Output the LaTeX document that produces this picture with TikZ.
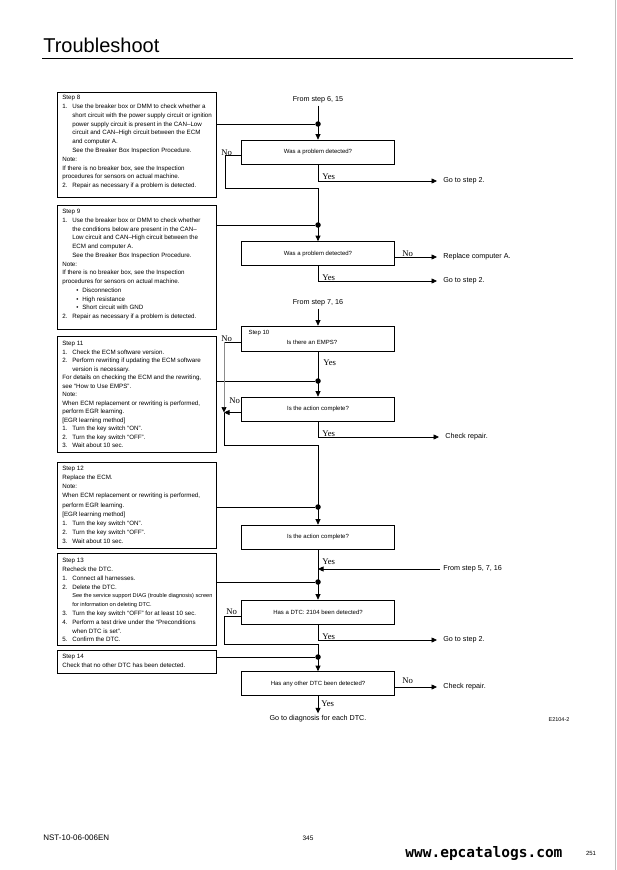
\documentclass[tikz,border=0pt]{standalone}
\usepackage{fontspec}
\setmainfont{Liberation Sans}
\newfontfamily\ynfont{Liberation Serif}
\newfontfamily\webfont{DejaVu Sans Mono}
\usetikzlibrary{arrows.meta,positioning}

\newcommand\numcol[1]{\makebox[10pt][l]{#1}}
\newcommand\indcol{\hspace*{10pt}}
\newcommand\bulcol{\hspace*{14pt}\makebox[6pt][l]{\textbullet}}

\begin{document}
\begin{tikzpicture}[x=1pt,y=-1pt,line width=0.7pt,
	stepbox/.style={draw,anchor=north west,minimum width=159pt,inner sep=0pt},
	steptext/.style={anchor=north west,align=left,inner sep=0pt,
		font=\fontsize{6.2}{8.8}\selectfont},
	askbox/.style={draw,minimum width=153pt,minimum height=24pt,inner sep=0pt,
		font=\fontsize{6}{7}\selectfont},
	side/.style={anchor=west,inner xsep=6pt,inner ysep=1pt,font=\fontsize{7.2}{8}\selectfont},
	from/.style={inner sep=2pt,font=\fontsize{7.2}{8}\selectfont},
	yn/.style={anchor=base west,inner sep=0pt,font=\ynfont\fontsize{8.7}{9}\selectfont},
	tip/.style={-{Triangle[length=5.5pt,width=5pt]}},
	dot/.style={circle,fill,inner sep=0pt,minimum size=5.5pt}]
	% page
	\fill[white] (0,0) rectangle (617,870);
	\useasboundingbox (0,0) rectangle (617,870);
	\node[anchor=base west,inner sep=0pt,font=\fontsize{20}{20}\selectfont] (title) at (43,52) {Troubleshoot};
	\draw[line width=0.9pt] (42,58) -- (573,58);
	\draw[black!25,line width=1.2pt] (615.5,0) -- (615.5,870);

	% left column: steps
	\node[stepbox,minimum height=105pt] (s8) at (57,92) {};
	\node[steptext] (s8t) at (62,95) {Step 8\\
		\numcol{1.}Use the breaker box or DMM to check whether a\\
		\indcol short circuit with the power supply circuit or ignition\\
		\indcol power supply circuit is present in the CAN–Low\\
		\indcol circuit and CAN–High circuit between the ECM\\
		\indcol and computer A.\\
		\indcol See the Breaker Box Inspection Procedure.\\
		Note:\\
		If there is no breaker box, see the Inspection\\
		procedures for sensors on actual machine.\\
		\numcol{2.}Repair as necessary if a problem is detected.};
	\node[stepbox,minimum height=124pt] (s9) at (57,205) {};
	\node[steptext,font=\fontsize{6.2}{8.75}\selectfont] (s9t) at (62,209) {Step 9\\
		\numcol{1.}Use the breaker box or DMM to check whether\\
		\indcol the conditions below are present in the CAN–\\
		\indcol Low circuit and CAN–High circuit between the\\
		\indcol ECM and computer A.\\
		\indcol See the Breaker Box Inspection Procedure.\\
		Note:\\
		If there is no breaker box, see the Inspection\\
		procedures for sensors on actual machine.\\
		\bulcol Disconnection\\
		\bulcol High resistance\\
		\bulcol Short circuit with GND\\
		\numcol{2.}Repair as necessary if a problem is detected.};
	\node[stepbox,minimum height=116pt] (s11) at (57,336) {};
	\node[steptext,font=\fontsize{6.2}{8.5}\selectfont] (s11t) at (62,341) {Step 11\\
		\numcol{1.}Check the ECM software version.\\
		\numcol{2.}Perform rewriting if updating the ECM software\\
		\indcol version is necessary.\\
		For details on checking the ECM and the rewriting,\\
		see “How to Use EMPS”.\\
		Note:\\
		When ECM replacement or rewriting is performed,\\
		perform EGR learning.\\
		{[}EGR learning method{]}\\
		\numcol{1.}Turn the key switch “ON”.\\
		\numcol{2.}Turn the key switch “OFF”.\\
		\numcol{3.}Wait about 10 sec.};
	\node[stepbox,minimum height=86pt] (s12) at (57,462) {};
	\node[steptext,font=\fontsize{6.2}{9.1}\selectfont] (s12t) at (62,466) {Step 12\\
		Replace the ECM.\\
		Note:\\
		When ECM replacement or rewriting is performed,\\
		perform EGR learning.\\
		{[}EGR learning method{]}\\
		\numcol{1.}Turn the key switch “ON”.\\
		\numcol{2.}Turn the key switch “OFF”.\\
		\numcol{3.}Wait about 10 sec.};
	\node[stepbox,minimum height=92pt] (s13) at (57,553) {};
	\node[steptext] (s13t) at (62,558) {Step 13\\
		Recheck the DTC.\\
		\numcol{1.}Connect all harnesses.\\
		\numcol{2.}Delete the DTC.\\
		\indcol{\fontsize{5.6}{7}\selectfont See the service support DIAG (trouble diagnosis) screen}\\
		\indcol{\fontsize{5.6}{7}\selectfont for information on deleting DTC.}\\
		\numcol{3.}Turn the key switch “OFF” for at least 10 sec.\\
		\numcol{4.}Perform a test drive under the “Preconditions\\
		\indcol when DTC is set”.\\
		\numcol{5.}Confirm the DTC.};
	\node[stepbox,minimum height=23pt] (s14) at (57,650) {};
	\node[steptext] (s14t) at (62,654) {Step 14\\
		Check that no other DTC has been detected.};

	% right column: checks
	\node[from] (f1) at (318,100) {From step 6, 15};
	\node[askbox] (d1) at (318,152) {Was a problem detected?};
	\node[askbox] (d2) at (318,253.5) {Was a problem detected?};
	\node[from] (f2) at (318,303) {From step 7, 16};
	\node[askbox,minimum height=25pt] (d3) at (318,338.5) {};
	\node[anchor=north west,inner sep=0pt,font=\fontsize{6}{7}\selectfont] (d3s) at ([xshift=7pt,yshift=-4pt]d3.north west) {Step 10};
	\node[inner sep=0pt,font=\fontsize{6}{7}\selectfont] (d3t) at (312,342) {Is there an EMPS?};
	\node[askbox] (d4) at (318,409) {Is the action complete?};
	\node[askbox] (d5) at (318,537) {Is the action complete?};
	\node[askbox] (d6) at (318,612) {Has a DTC: 2104 been detected?};
	\node[askbox] (d7) at (318,683.5) {Has any other DTC been detected?};

	% joints on the main line
	\node[dot] (j1) at (318,124) {};
	\node[dot] (j2) at (318,225) {};
	\node[dot] (j3) at (318,381) {};
	\node[dot] (j4) at (318,507) {};
	\node[dot] (j5) at (318,582) {};
	\node[dot] (j6) at (318,657) {};
	\draw (s8.east |- j1) -- (j1);
	\draw (s9.east |- j2) -- (j2);
	\draw (s11.east |- j3) -- (j3);
	\draw (s12.east |- j4) -- (j4);
	\draw (s13.east |- j5) -- (j5);
	\draw (s14.east |- j6) -- (j6);

	% exits
	\node[side] (g1) at (437,181) {Go to step 2.};
	\node[side] (r2) at (437,257) {Replace computer A.};
	\node[side] (g2) at (437,281) {Go to step 2.};
	\node[side] (c4) at (439,437) {Check repair.};
	\node[side,inner xsep=3pt] (f3) at (440,569) {From step 5, 7, 16};
	\node[side] (g6) at (437,640) {Go to step 2.};
	\node[side] (c7) at (437,687) {Check repair.};
	\node[from] (e7) at (318,719) {Go to diagnosis for each DTC.};
	\node[inner sep=0pt,font=\fontsize{5.5}{6}\selectfont] (fig) at (559,720) {E2104-2};

	% flow
	\draw[tip] (f1) -- (d1);
	\draw[tip] ([yshift=-3.5pt]d1.west) -| (225,188) -| (d2.north);
	\draw[tip] (d1.south) |- (g1.west);
	\draw[tip] ([yshift=-3.5pt]d2.east) -- (r2.west);
	\draw[tip] (d2.south) |- (g2.west);
	\draw[tip] (f2) -- (d3);
	\coordinate (m4) at (224,412.5);
	\draw ([yshift=-3.5pt]d3.west) -- (224,342) coordinate (k3);
	\draw[black!45,-{Triangle[length=5.5pt,width=5pt,black]}] (k3) -- (m4);
	\draw[tip] ([yshift=-3.5pt]d4.west) -- (m4);
	\draw[tip] (d3) -- (d4);
	\draw[tip] (d4.south) |- (c4.west);
	\draw[tip] (m4) -- (224,445) -| (d5.north);
	\draw[tip] (d5) -- (d6);
	\draw[tip] (f3.west) -- (f3.west -| d5.south);
	\draw[tip] ([yshift=-4pt]d6.west) -| (224,644) -| (d7.north);
	\draw[tip] (d6.south) |- (g6.west);
	\draw[tip] ([yshift=-3.5pt]d7.east) -- (c7.west);
	\draw[tip] (d7) -- (e7);

	% yes / no
	\node[yn] (n1) at (221,155) {No};
	\node[yn] (y1) at (322,179) {Yes};
	\node[yn] (n2) at (402,256) {No};
	\node[yn] (y2) at (322,280) {Yes};
	\node[yn] (n3) at (221,341) {No};
	\node[yn] (y3) at (323,365) {Yes};
	\node[yn] (n4) at (229,403) {No};
	\node[yn] (y4) at (322,436) {Yes};
	\node[yn] (y5) at (322,564) {Yes};
	\node[yn] (n6) at (226,614) {No};
	\node[yn] (y6) at (322,639) {Yes};
	\node[yn] (n7) at (402,683) {No};
	\node[yn] (y7) at (321,706) {Yes};

	% footer
	\node[anchor=west,inner sep=0pt,font=\fontsize{8}{8}\selectfont] (doc) at (43,838) {NST-10-06-006EN};
	\node[inner sep=0pt,font=\fontsize{6.5}{7}\selectfont] (pg) at (308,838) {345};
	\node[anchor=west,inner sep=0pt,font=\webfont\bfseries\fontsize{14.5}{15}\selectfont] (web) at (405,853) {www.epcatalogs.com};
	\node[inner sep=0pt,font=\fontsize{6}{7}\selectfont] (pg2) at (591,853) {251};
\end{tikzpicture}
\end{document}
